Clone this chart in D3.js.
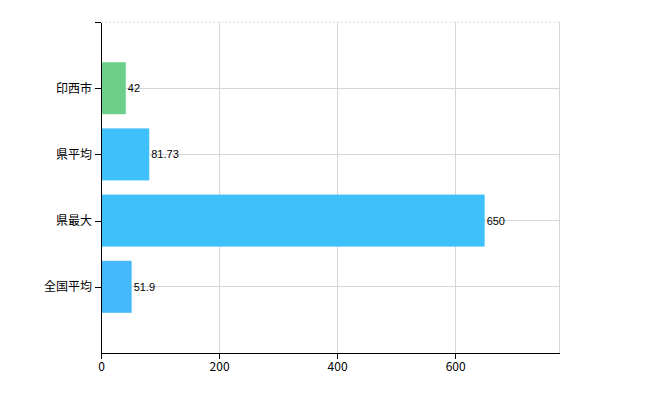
<!DOCTYPE html>
<html>
<head>
<meta charset="utf-8">
<script src="https://cdn.jsdelivr.net/npm/d3@7"></script>
<style>
body { margin: 0; background: #fff; }
.axis path, .axis line { stroke: #000; shape-rendering: crispEdges; }
.axis text { font-family: "Noto Sans CJK JP", sans-serif; font-size: 12px; fill: #000; }
</style>
</head>
<body>
<script>
var categories = ["印西市", "県平均", "県最大", "全国平均"];
var values = [42, 81.73, 650, 51.9];
var barColors = ["#6dd08a", "#3ec0fb", "#3ec0fb", "#44b8f8"];
var xTicks = [0, 200, 400, 600];

var margin = {left: 101, top: 22, right: 91, bottom: 47};
var W = 650, H = 400;
var svg = d3.select("body").append("svg").attr("width", W).attr("height", H);

var x = d3.scaleLinear().domain([0, 776]).range([margin.left, W - margin.right]);
var y = d3.scalePoint().domain(categories).range([margin.top, H - margin.bottom]).padding(1);

// grid
svg.append("g").selectAll("line").data(xTicks.slice(1).concat([776])).enter().append("line")
  .attr("x1", d => x(d)).attr("x2", d => x(d))
  .attr("y1", margin.top).attr("y2", H - margin.bottom)
  .attr("stroke", "#d3d7dc").attr("shape-rendering", "crispEdges");
svg.append("g").selectAll("line").data(categories).enter().append("line")
  .attr("x1", margin.left).attr("x2", x(776))
  .attr("y1", d => y(d)).attr("y2", d => y(d))
  .attr("stroke", "#d3d7dc").attr("shape-rendering", "crispEdges");
svg.append("line").attr("x1", margin.left).attr("x2", x(776))
  .attr("y1", margin.top).attr("y2", margin.top)
  .attr("stroke", "#d3d7dc").attr("stroke-dasharray", "2,2");

var bh = 52;
svg.selectAll("rect.bar").data(values).enter().append("rect")
  .attr("x", x(0)).attr("y", (d, i) => y(categories[i]) - bh / 2)
  .attr("width", d => x(d) - x(0)).attr("height", bh)
  .attr("fill", (d, i) => barColors[i]);

svg.selectAll("text.lbl").data(values).enter().append("text")
  .attr("x", d => x(d) + 2).attr("y", (d, i) => y(categories[i]) + 4)
  .attr("font-family", "Liberation Sans, Arial, sans-serif").attr("font-size", 11)
  .text(d => d);

svg.append("g").attr("class", "axis")
  .attr("transform", "translate(0," + (H - margin.bottom) + ")")
  .call(d3.axisBottom(x).tickValues(xTicks).tickSizeOuter(0))
  .selectAll("text").attr("font-family", "Liberation Sans, Arial, sans-serif");

svg.append("g").attr("class", "axis")
  .attr("transform", "translate(" + margin.left + ",0)")
  .call(d3.axisLeft(y).tickSizeOuter(0))
  .call(g => g.append("line").attr("x1", -6).attr("x2", 0)
    .attr("y1", margin.top + 0.5).attr("y2", margin.top + 0.5).attr("stroke", "#000"));
</script>
</body>
</html>
